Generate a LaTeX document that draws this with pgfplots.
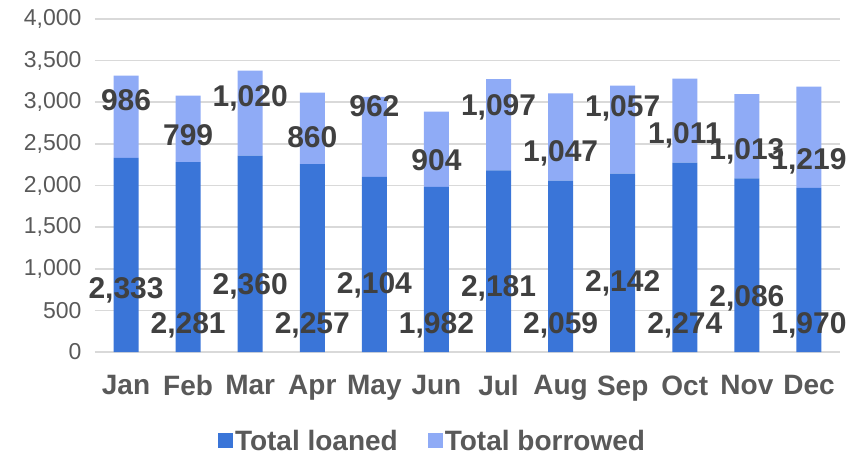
\documentclass[border=0pt]{standalone}
\usepackage{pgfplots}
\pgfplotsset{compat=1.18}
\usepackage{pgfplotstable}
\usepackage{fontspec}
\setmainfont{Liberation Sans}
\definecolor{loan}{HTML}{3A75D8}
\definecolor{borrow}{HTML}{8FABF6}
\definecolor{lbl}{HTML}{404040}
\definecolor{tck}{HTML}{595959}
\definecolor{gridc}{HTML}{D9D9D9}
\pgfplotstableread{
x loaned borrowed
0 2333 986
1 2281 799
2 2360 1020
3 2257 860
4 2104 962
5 1982 904
6 2181 1097
7 2059 1047
8 2142 1057
9 2274 1011
10 2086 1013
11 1970 1219
}\bars
\pgfplotstableread{
x y label
0 745 2,333
1 324 2,281
2 793 2,360
3 324 2,257
4 805 2,104
5 324 1,982
6 769 2,181
7 324 2,059
8 829 2,142
9 324 2,274
10 649 2,086
11 324 1,970
}\loanlbl
\pgfplotstableread{
x y label
0 3027 986
1 2606 799
2 3051 1,020
3 2582 860
4 2955 962
5 2306 904
6 2943 1,097
7 2390 1,047
8 2930 1,057
9 2606 1,011
10 2414 1,013
11 2294 1,219
}\borrowlbl
\begin{document}
\begin{tikzpicture}[x=1pt,y=1pt]
\useasboundingbox (-95,-105) rectangle (755,352);
\begin{axis}[
  at={(0,0)}, anchor=south west,
  scale only axis, width=745pt, height=333pt,
  ybar stacked, bar width=25pt,
  xmin=-0.5, xmax=11.5, ymin=0, ymax=4000,
  xtick={0,...,11},
  xticklabels={Jan,Feb,Mar,Apr,May,Jun,Jul,Aug,Sep,Oct,Nov,Dec},
  ytick={0,500,...,4000},
  ymajorgrids, grid style={color=gridc, line width=1.5pt},
  axis line style={draw=none}, tick style={draw=none},
  /pgf/number format/assume math mode=true,
  /pgf/number format/.cd, fixed, precision=0, 1000 sep={,}, /pgfplots/.cd,
  yticklabel style={font=\fontsize{23}{25}\selectfont, text=tck, xshift=-10pt},
  xticklabel style={font=\fontsize{28}{30}\selectfont\bfseries, text=tck, yshift=-20pt},
  legend style={at={(0.5,0)}, anchor=center, xshift=-35pt, yshift=-89pt, draw=none,
    font=\fontsize{28}{30}\selectfont\bfseries, text=tck, legend columns=2,
    /tikz/every even column/.append style={column sep=28pt}},
  legend image code/.code={\fill[#1] (-4pt,-7pt) rectangle (11pt,8pt);},
]
\addplot[fill=loan, draw=none] table[x=x, y=loaned] {\bars};
\addplot[fill=borrow, draw=none] table[x=x, y=borrowed] {\bars};
\legend{Total loaned, Total borrowed}
\end{axis}
\begin{axis}[
  at={(0,0)}, anchor=south west,
  scale only axis, width=745pt, height=333pt,
  xmin=-0.5, xmax=11.5, ymin=0, ymax=4000, hide axis,
  nodes near coords, point meta=explicit symbolic,
  nodes near coords style={anchor=center, font=\fontsize{30}{32}\selectfont\bfseries, text=lbl, inner sep=0pt},
]
\addplot[draw=none] table[x=x, y=y, meta=label] {\loanlbl};
\addplot[draw=none] table[x=x, y=y, meta=label] {\borrowlbl};
\end{axis}
\end{tikzpicture}
\end{document}
